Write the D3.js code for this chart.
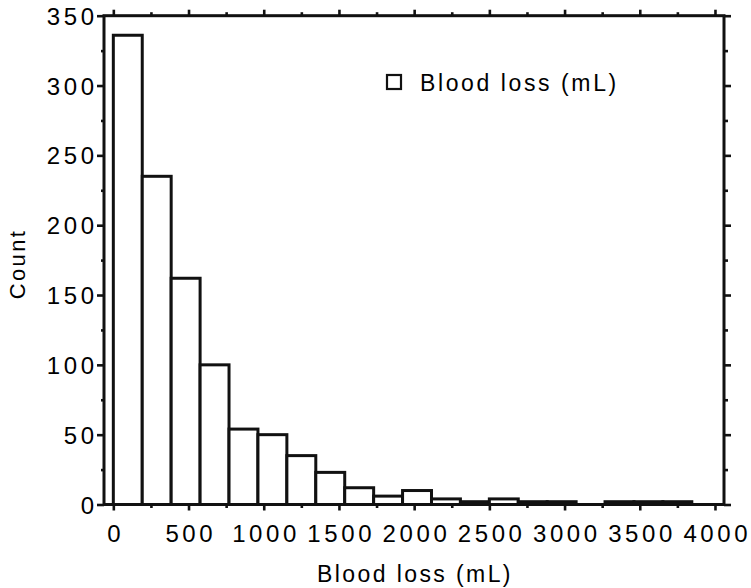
<!DOCTYPE html>
<html>
<head>
<meta charset="utf-8">
<script src="https://cdn.jsdelivr.net/npm/d3@7"></script>
<style>
  body { margin: 0; background: #fff; }
  svg { display: block; font-family: "Liberation Sans", Arial, Helvetica, sans-serif; }
</style>
</head>
<body>
<svg id="chart" width="751" height="588"></svg>
<script>
// histogram of blood loss, 20 bins starting at 0
var binStart = 0;
var binWidth = 192.3;
var counts = [336, 235, 162, 100, 54, 50, 35, 23, 12, 6, 10, 4, 2, 4, 2, 2, 0, 2, 2, 2];

var xTicks = [0, 500, 1000, 1500, 2000, 2500, 3000, 3500, 4000];
var xMinorTicks = [250, 750, 1250, 1750, 2250, 2750, 3250, 3750];
var yTicks = [0, 50, 100, 150, 200, 250, 300, 350];
var yMinorTicks = [25, 75, 125, 175, 225, 275, 325];

var seriesName = "Blood loss (mL)";
var xTitle = "Blood loss (mL)";
var yTitle = "Count";

var bins = counts.map(function(c, i) {
    return { x0: binStart + i * binWidth, x1: binStart + (i + 1) * binWidth, count: c };
});

var svg = d3.select("#chart");

// plot frame in pixels (plotTop, not "top" - that one is window.top)
var plotLeft = 104, plotRight = 724, plotTop = 15.7, plotBottom = 504.5;

var x = d3.scaleLinear()
    .domain([-62, 4060])
    .range([plotLeft, plotRight]);

var y = d3.scaleLinear()
    .domain([0, 350])
    .range([plotBottom, plotTop]);

// bars
svg.append("g")
    .selectAll("rect")
    .data(bins)
  .enter().append("rect")
    .attr("x", d => x(d.x0))
    .attr("y", d => y(d.count))
    .attr("width", d => x(d.x1) - x(d.x0))
    .attr("height", d => y(0) - y(d.count))
    .attr("fill", "#fff")
    .attr("stroke", "#111")
    .attr("stroke-width", 3);

// frame
svg.append("rect")
    .attr("x", plotLeft)
    .attr("y", plotTop)
    .attr("width", plotRight - plotLeft)
    .attr("height", plotBottom - plotTop)
    .attr("fill", "none")
    .attr("stroke", "#111")
    .attr("stroke-width", 3);

function styleAxis(g) {
    g.select(".domain").remove();
    g.selectAll(".tick line").attr("stroke", "#111").attr("stroke-width", 2.6);
    g.selectAll(".tick text")
        .attr("fill", "#000")
        .style("font-size", "24px")
        .style("letter-spacing", "3.6px");
}

var fmt = d3.format("d");

// left axis
svg.append("g")
    .attr("transform", "translate(" + plotLeft + ",0)")
    .call(d3.axisLeft(y).tickValues(yTicks).tickSize(7).tickPadding(3).tickFormat(fmt))
    .call(styleAxis)
    .selectAll(".tick text")
    .attr("dx", "3.6px")
    .attr("dy", "0.36em");

svg.append("g")
    .attr("transform", "translate(" + plotLeft + ",0)")
    .call(d3.axisLeft(y).tickValues(yMinorTicks).tickSize(3).tickFormat(""))
    .call(styleAxis);

// right axis
svg.append("g")
    .attr("transform", "translate(" + plotRight + ",0)")
    .call(d3.axisRight(y).tickValues(yTicks).tickSize(7).tickFormat(""))
    .call(styleAxis);

svg.append("g")
    .attr("transform", "translate(" + plotRight + ",0)")
    .call(d3.axisRight(y).tickValues(yMinorTicks).tickSize(4).tickFormat(""))
    .call(styleAxis);

// bottom axis
svg.append("g")
    .attr("transform", "translate(0," + plotBottom + ")")
    .call(d3.axisBottom(x).tickValues(xTicks).tickSize(6).tickPadding(14).tickFormat(fmt))
    .call(styleAxis)
    .selectAll(".tick text")
    .attr("dx", "1.8px");

svg.append("g")
    .attr("transform", "translate(0," + plotBottom + ")")
    .call(d3.axisBottom(x).tickValues(xMinorTicks).tickSize(3.5).tickFormat(""))
    .call(styleAxis);

// top axis
svg.append("g")
    .attr("transform", "translate(0," + plotTop + ")")
    .call(d3.axisTop(x).tickValues(xTicks).tickSize(6).tickFormat(""))
    .call(styleAxis);

svg.append("g")
    .attr("transform", "translate(0," + plotTop + ")")
    .call(d3.axisTop(x).tickValues(xMinorTicks).tickSize(3.5).tickFormat(""))
    .call(styleAxis);

// axis titles
svg.append("text")
    .attr("x", 415)
    .attr("y", 582)
    .attr("text-anchor", "middle")
    .attr("fill", "#000")
    .style("font-size", "23px")
    .style("letter-spacing", "2.4px")
    .text(xTitle);

svg.append("text")
    .attr("transform", "translate(25,264) rotate(-90)")
    .attr("text-anchor", "middle")
    .attr("fill", "#000")
    .style("font-size", "22px")
    .style("letter-spacing", "2.4px")
    .text(yTitle);

// legend
var legend = svg.append("g").attr("transform", "translate(387,75)");
legend.append("rect")
    .attr("width", 14)
    .attr("height", 14)
    .attr("fill", "#fff")
    .attr("stroke", "#111")
    .attr("stroke-width", 2.2);
legend.append("text")
    .attr("x", 33)
    .attr("y", 15.7)
    .attr("fill", "#000")
    .style("font-size", "23px")
    .style("letter-spacing", "2.6px")
    .text(seriesName);
</script>
</body>
</html>
